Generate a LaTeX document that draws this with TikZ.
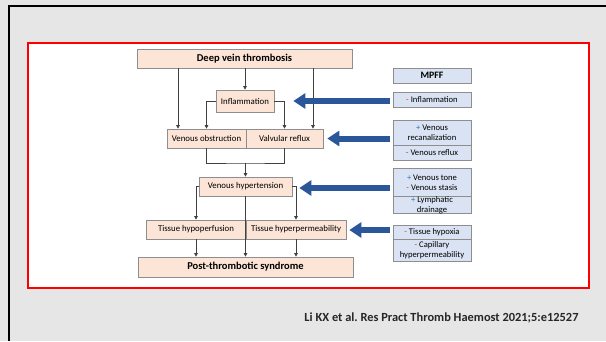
\documentclass[tikz,border=0pt]{standalone}
\usepackage{fontspec}
\setmainfont{Carlito}
\usetikzlibrary{arrows.meta,calc}
\definecolor{slidegray}{HTML}{E6E6E6}
\definecolor{peach}{HTML}{FCE4D6}
\definecolor{lblue}{HTML}{DAE3F3}
\definecolor{boxline}{HTML}{8E8E8E}
\definecolor{arrblue}{HTML}{2B579A}
\definecolor{plusblue}{HTML}{2E75B6}
\definecolor{minusred}{HTML}{E03030}
\newcommand{\pl}{{\color{plusblue}+}}
\newcommand{\mi}{{\color{minusred}-}}
\frenchspacing
\tikzset{
  pbox/.style={draw=boxline, line width=0.7pt, fill=peach, inner sep=0pt, align=center,
    font=\fontsize{8.8}{10.5}\selectfont},
  tbox/.style={pbox, font=\fontsize{10.5}{12}\selectfont\bfseries},
  rbox/.style={draw=boxline, line width=0.7pt, fill=lblue, inner sep=0pt, align=center,
    minimum width=78pt, font=\fontsize{8.6}{10}\selectfont},
  conn/.style={draw=black!75, line width=0.6pt},
  arr/.style={conn, -{Triangle[length=3.5pt,width=3.5pt]}},
  bluearr/.style={draw=arrblue, line width=6pt, -{Triangle[length=12pt,width=15pt]}}
}
\begin{document}
\begin{tikzpicture}[x=1pt,y=-1pt]
\useasboundingbox (0,0) rectangle (606,341);
\fill[slidegray] (0,0) rectangle (606,341);
\draw[black, line width=2pt] (9,341) -- (9,6) -- (606,6);
\draw[red, line width=1.5pt, fill=white] (28,43) rectangle (589,288);

% left column
\node[tbox, minimum width=215pt, minimum height=19pt] (dvt) at (244.5,58.5) {Deep vein thrombosis};
\node[pbox, minimum width=58pt, minimum height=22pt] (infl) at (245,101) {Inflammation};
\node[pbox, minimum width=79pt, minimum height=19pt] (vo) at (206.5,138.5) {Venous obstruction};
\node[pbox, minimum width=77pt, minimum height=19pt] (vr) at (284.5,138.5) {Valvular reflux};
\node[pbox, minimum width=93pt, minimum height=19pt] (vh) at (245.5,186.5) {Venous hypertension};
\node[pbox, minimum width=100pt, minimum height=19pt] (th) at (196,229.5) {Tissue hypoperfusion};
\node[pbox, minimum width=100pt, minimum height=19pt] (tp) at (296,229.5) {Tissue hyperpermeability};
\node[tbox, minimum width=215pt, minimum height=20pt] (pts) at (245.5,267) {Post-thrombotic syndrome};

% connectors
\draw[arr] (dvt.south -| 178,0) -- (vo.north -| 178,0);
\draw[arr] (dvt.south -| infl.north) -- (infl.north);
\draw[arr] (dvt.south -| 313,0) -- (vr.north -| 313,0);
\draw[arr] (infl.west) -| (vo.north);
\draw[arr] (infl.east) -| (vr.north);
\coordinate (j) at (245.5,163);
\draw[conn] (vo.south) |- (j) -| (vr.south);
\draw[arr] (j) -- (vh.north);
\draw[arr] (vh.west) -| (th.north);
\draw[arr] (vh.east) -| (tp.north);
\draw[arr] (vh.south) -- (pts.north);
\draw[arr] (th.south) -- (pts.north -| th.south);
\draw[arr] (tp.south) -- (pts.north -| tp.south);

% right column
\node[rbox, minimum height=15pt, font=\fontsize{9.8}{11}\selectfont\bfseries] (mpff) at (432,75.5) {MPFF};
\node[rbox, minimum height=15pt] (r1) at (432,99.5) {\mi{} Inflammation};
\node[rbox, minimum height=25pt] (r2a) at (432,132.5) {\pl{} Venous\\recanalization};
\node[rbox, minimum height=15pt] (r2b) at (432,152.5) {\mi{} Venous reflux};
\node[rbox, minimum height=29pt] (r3a) at (432,182.5) {\pl{} Venous tone\\\mi{} Venous stasis};
\node[rbox, minimum height=16pt, font=\fontsize{8.6}{9.5}\selectfont] (r3b) at (432,205) {\pl{} Lymphatic\\drainage};
\node[rbox, minimum height=14pt] (r4a) at (432,232) {\mi{} Tissue hypoxia};
\node[rbox, minimum height=22pt, font=\fontsize{8.6}{9.5}\selectfont] (r4b) at (432,250) {\mi{} Capillary\\hyperpermeability};

% blue arrows
\draw[bluearr] ($(r1.west |- infl.east)+(-3,0)$) -- ($(infl.east)+(19,0)$);
\draw[bluearr] ($(r2a.west |- vr.east)+(-3,0)$) -- ($(vr.east)+(4,0)$);
\draw[bluearr] ($(r3a.west |- vh.east)+(-3,1.5)$) -- ($(vh.east)+(7,1.5)$);
\draw[bluearr] ($(r4a.west |- tp.east)+(-3,0.5)$) -- ($(tp.east)+(3,0.5)$);

% citation
\node[font=\fontsize{12.4}{14}\selectfont\bfseries, text=black!85] (cite) at (441.5,318) {Li KX et al. Res Pract Thromb Haemost 2021;5:e12527};
\end{tikzpicture}
\end{document}
